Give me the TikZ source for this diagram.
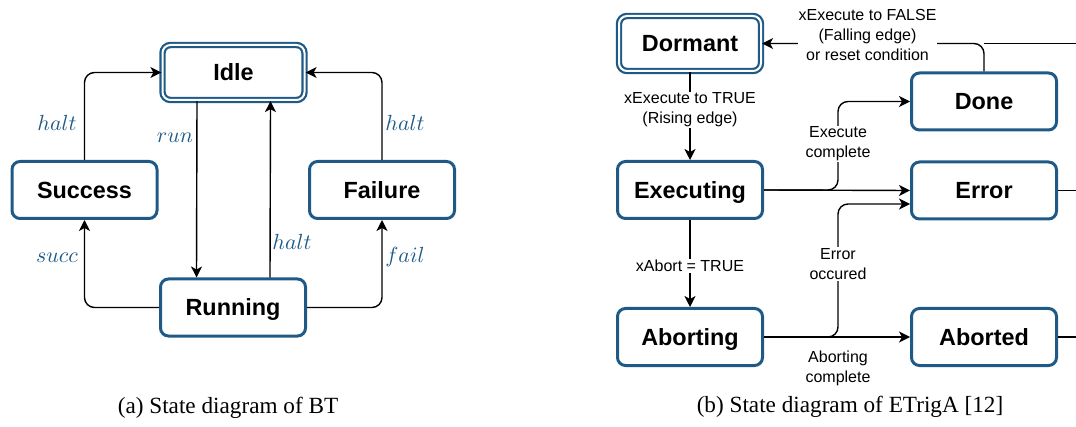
\documentclass[tikz,border=0pt]{standalone}
\usepackage{fontspec}
\setsansfont{Liberation Sans}
\setmainfont{Liberation Serif}
\usetikzlibrary{arrows.meta}
\definecolor{stateblue}{RGB}{31,90,135}

\begin{document}
\begin{tikzpicture}[x=0.5pt,y=-0.5pt,
	state/.style={draw=stateblue, line width=1.5pt, rounded corners=4pt, minimum width=72.5pt, minimum height=28.5pt, text height=8.4pt, text depth=0pt, font=\sffamily\bfseries\fontsize{11.7}{14}\selectfont},
	initstate/.style={state, line width=1.1pt, double=white, double distance=1pt, minimum width=71pt, minimum height=27.5pt},
	trans/.style={-{Stealth[length=5.5pt,width=5.5pt,inset=1.5pt]}, line width=0.7pt, rounded corners=5pt},
	cond/.style={font=\sffamily\fontsize{8}{10}\selectfont, align=center, fill=white, inner sep=0.5pt},
	evt/.style={text=stateblue, font=\fontsize{10.8}{13}\selectfont},
	captext/.style={font=\rmfamily\fontsize{11.6}{14}\selectfont}]
	\useasboundingbox (0,0) rectangle (1076,427);
	% BT
	\node[initstate] (idle) at (233.5,72.5) {Idle};
	\node[state] (success) at (84.5,190) {Success};
	\node[state] (failure) at (382,190) {Failure};
	\node[state] (running) at (233,307.5) {Running};
	\draw[trans] (success.north) |- (idle.west);
	\draw[trans] (failure.north) |- (idle.east);
	\draw[trans] ([xshift=-18.25pt]idle.south) -- ([xshift=-18.25pt]running.north);
	\draw[trans] ([xshift=18.5pt]running.north) -- ([xshift=18.5pt]idle.south);
	\draw[trans] (running.west) -| (success.south);
	\draw[trans] (running.east) -| (failure.south);
	\node[evt] (haltS) at (57,123) {$halt$};
	\node[evt] (haltF) at (405,123) {$halt$};
	\node[evt] (run) at (175,138) {$run$};
	\node[evt] (haltR) at (292,242) {$halt$};
	\node[evt] (succ) at (57,258) {$succ$};
	\node[evt] (fail) at (405,257) {$fail$};
	% ETrigA
	\node[initstate] (dormant) at (690,43.5) {Dormant};
	\node[state] (executing) at (690,190) {Executing};
	\node[state] (aborting) at (690,337) {Aborting};
	\node[state] (done) at (984,101.5) {Done};
	\node[state] (error) at (984,190.5) {Error};
	\node[state] (aborted) at (984,337) {Aborted};
	\coordinate (topout) at (1076,43.5);
	\coordinate (errout) at (1076,190.5);
	\coordinate (abdout) at (1076,337);
	\coordinate (exbr) at (838,190);
	\coordinate (abbr) at (838,337);
	\draw[trans] (dormant.south) -- (executing.north);
	\draw[trans] (executing.south) -- (aborting.north);
	\draw[trans] (executing.east) -- (error.west);
	\draw[trans] (executing.east) -- (exbr) |- (done.west);
	\draw[trans] (aborting.east) -- (aborted.west);
	\draw[trans] (aborting.east) -- (abbr) |- ([yshift=-6.75pt]error.west);
	\draw[trans] (done.north) |- (dormant.east);
	\draw[line width=0.7pt] (topout) -- (done.north |- topout);
	\draw[line width=0.7pt] (error.east) -- (errout);
	\draw[line width=0.7pt] (aborted.east) -- (abdout);
	\node[cond] (toFalse) at (867.5,35) {xExecute to FALSE\\(Falling edge)\\or reset condition};
	\node[cond] (toTrue) at (690,110) {xExecute to TRUE\\(Rising edge)};
	\node[cond] (abortTrue) at (690,266) {xAbort = TRUE};
	\node[cond] (exComplete) at (838,144) {Execute\\complete};
	\node[cond] (errOcc) at (838,264) {Error\\occured};
	\node[cond] (abComplete) at (838,368) {Aborting\\complete};
	\node[captext] (capA) at (228,408) {(a) State diagram of BT};
	\node[captext] (capB) at (850,407) {(b) State diagram of ETrigA [12]};
\end{tikzpicture}
\end{document}
